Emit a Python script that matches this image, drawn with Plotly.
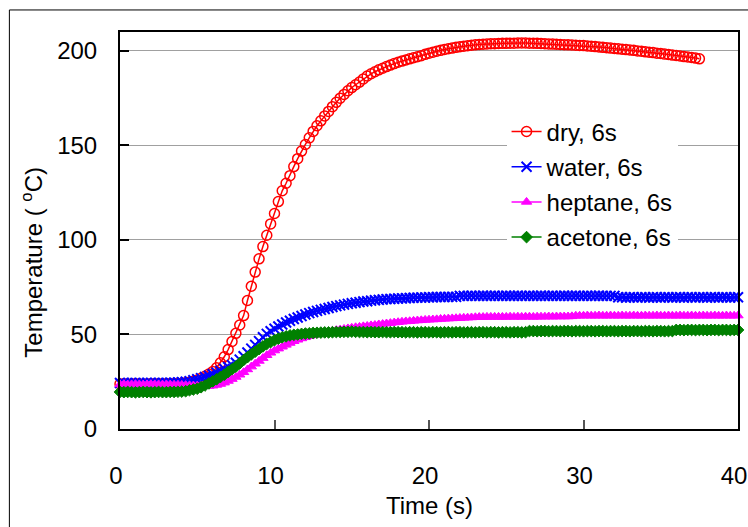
import plotly.graph_objects as go

TIME_STEP = 0.25  # s, sampling interval of the recorded data

dry_6s = [
    23.8, 23.9, 23.7, 23.8, 23.9, 23.8, 23.7, 23.8, 23.9, 23.8,
    23.9, 23.8, 23.9, 24.0, 23.9, 24.1, 24.2, 24.4, 24.7, 25.2,
    25.9, 26.8, 27.9, 29.1, 30.4, 32.4, 35.0, 38.2, 42.0, 46.3,
    50.6, 55.0, 60.0, 68.0, 75.5, 83.0, 90.0, 96.5, 102.5, 108.5,
    114.0, 120.3, 126.0, 130.0, 134.0, 138.8, 143.0, 147.0, 150.5, 154.0,
    157.4, 160.4, 163.0, 165.6, 168.0, 170.5, 172.8, 175.0, 177.0, 178.9,
    180.6, 182.1, 183.5, 185.2, 186.7, 187.9, 189.0, 190.0, 190.8, 191.7,
    192.5, 193.3, 194.0, 194.6, 195.2, 195.8, 196.4, 196.9, 197.5, 198.2,
    198.8, 199.3, 199.8, 200.3, 200.8, 201.2, 201.5, 201.9, 202.2, 202.5,
    202.7, 203.0, 203.2, 203.4, 203.5, 203.7, 203.8, 203.8, 203.9, 204.0,
    204.0, 204.1, 204.1, 204.2, 204.2, 204.2, 204.1, 204.1, 204.0, 203.9,
    203.8, 203.7, 203.6, 203.5, 203.4, 203.3, 203.2, 203.1, 203.0, 202.9,
    202.8, 202.6, 202.5, 202.3, 202.1, 201.9, 201.7, 201.5, 201.3, 201.1,
    200.9, 200.7, 200.5, 200.3, 200.0, 199.8, 199.5, 199.3, 199.1, 198.8,
    198.6, 198.3, 198.1, 197.8, 197.6, 197.3, 197.0, 196.8, 196.5, 196.2,
    195.8,
]

water_6s = [
    24.3, 24.4, 24.2, 24.3, 24.4, 24.3, 24.2, 24.3, 24.4, 24.3,
    24.4, 24.3, 24.4, 24.5, 24.5, 24.6, 24.8, 25.0, 25.3, 25.8,
    26.3, 26.9, 27.5, 28.2, 29.0, 29.8, 30.7, 31.7, 32.8, 33.8,
    35.0, 36.7, 38.5, 40.5, 42.5, 44.5, 46.5, 48.5, 50.3, 51.7,
    53.0, 54.2, 55.3, 56.3, 57.3, 58.2, 59.0, 59.8, 60.6, 61.3,
    61.9, 62.5, 63.0, 63.5, 64.0, 64.5, 65.0, 65.4, 65.8, 66.2,
    66.5, 66.8, 67.1, 67.4, 67.6, 67.9, 68.1, 68.3, 68.5, 68.7,
    68.8, 68.9, 69.0, 69.1, 69.2, 69.3, 69.4, 69.5, 69.6, 69.6,
    69.7, 69.7, 69.8, 69.8, 69.8, 69.9, 69.9, 69.9, 70.4, 70.4,
    70.4, 70.5, 70.4, 70.4, 70.5, 70.4, 70.4, 70.5, 70.4, 70.4,
    70.5, 70.4, 70.4, 70.5, 70.4, 70.4, 70.5, 70.4, 70.4, 70.5,
    70.4, 70.4, 70.5, 70.4, 70.4, 70.5, 70.4, 70.4, 70.5, 70.4,
    70.4, 70.5, 70.4, 70.4, 70.5, 70.4, 70.4, 70.4, 70.4, 69.7,
    69.7, 69.6, 69.7, 69.7, 69.6, 69.7, 69.7, 69.6, 69.7, 69.7,
    69.6, 69.7, 69.7, 69.6, 69.7, 69.7, 69.6, 69.7, 69.7, 69.6,
    69.7, 69.7, 69.6, 69.7, 69.7, 69.6, 69.7, 69.7, 69.6, 69.7,
    69.7,
]

heptane_6s = [
    23.6, 23.7, 23.5, 23.6, 23.7, 23.6, 23.5, 23.6, 23.7, 23.6,
    23.6, 23.5, 23.6, 23.5, 23.4, 23.4, 23.3, 23.2, 23.1, 23.0,
    22.9, 22.8, 22.7, 22.7, 22.9, 23.3, 23.8, 24.5, 25.4, 26.4,
    27.5, 28.7, 30.0, 31.5, 33.0, 34.5, 36.0, 37.5, 39.0, 40.3,
    41.5, 42.5, 43.5, 44.5, 45.5, 46.4, 47.2, 47.9, 48.5, 49.1,
    49.6, 50.1, 50.6, 51.1, 51.5, 51.9, 52.3, 52.6, 52.9, 53.2,
    53.5, 53.8, 54.0, 54.3, 54.5, 54.8, 55.0, 55.3, 55.5, 55.8,
    56.0, 56.3, 56.5, 56.7, 56.9, 57.0, 57.2, 57.4, 57.5, 57.7,
    57.8, 57.9, 58.0, 58.2, 58.3, 58.4, 58.5, 58.6, 58.7, 58.8,
    58.9, 59.0, 59.1, 59.2, 59.2, 59.3, 59.3, 59.3, 59.3, 59.3,
    59.3, 59.4, 59.3, 59.4, 59.3, 59.4, 59.4, 59.3, 59.4, 59.4,
    59.4, 59.5, 59.4, 59.5, 59.5, 59.5, 59.5, 59.6, 59.9, 59.9,
    59.9, 60.0, 59.9, 59.9, 60.0, 59.9, 59.9, 60.0, 59.9, 59.9,
    60.0, 59.9, 59.9, 60.0, 59.9, 59.9, 60.0, 59.9, 59.9, 60.0,
    59.9, 59.9, 60.0, 59.9, 59.9, 60.0, 59.9, 59.9, 60.0, 59.9,
    59.9, 60.0, 59.9, 59.9, 60.0, 59.9, 59.9, 60.0, 59.9, 59.9,
    60.0,
]

acetone_6s = [
    19.6, 19.5, 19.6, 19.5, 19.4, 19.5, 19.6, 19.5, 19.4, 19.5,
    19.6, 19.5, 19.5, 19.6, 19.6, 19.7, 19.8, 20.0, 20.5, 20.9,
    21.3, 22.1, 23.0, 24.1, 25.2, 26.3, 27.5, 28.7, 30.2, 31.6,
    33.0, 34.7, 36.5, 38.0, 39.5, 40.9, 42.3, 43.7, 45.0, 46.0,
    47.0, 47.8, 48.5, 49.0, 49.5, 49.8, 50.0, 50.3, 50.5, 50.6,
    50.8, 50.9, 51.0, 51.1, 51.1, 51.2, 51.3, 51.3, 51.4, 51.4,
    51.5, 51.4, 51.3, 51.3, 51.2, 51.3, 51.2, 51.2, 51.3, 51.2,
    51.2, 51.3, 51.2, 51.2, 51.1, 51.2, 51.2, 51.1, 51.2, 51.2,
    51.1, 51.2, 51.2, 51.1, 51.2, 51.2, 51.1, 51.2, 51.2, 51.1,
    51.2, 51.2, 51.1, 51.2, 51.2, 51.1, 51.2, 51.2, 51.1, 51.2,
    51.2, 51.1, 51.2, 51.2, 51.1, 51.2, 51.8, 51.8, 51.7, 51.8,
    51.8, 51.7, 51.8, 51.8, 51.7, 51.8, 51.8, 51.7, 51.8, 51.8,
    51.7, 51.8, 51.8, 51.7, 51.8, 51.8, 51.7, 51.8, 51.8, 51.7,
    51.8, 51.8, 51.7, 51.8, 51.8, 51.7, 51.8, 51.8, 51.7, 51.8,
    51.8, 51.7, 51.8, 51.8, 52.4, 52.4, 52.3, 52.4, 52.4, 52.3,
    52.4, 52.4, 52.3, 52.4, 52.4, 52.3, 52.4, 52.4, 52.3, 52.4,
    52.4,
]

series_names = ["dry, 6s", "water, 6s", "heptane, 6s", "acetone, 6s"]
series_values = [dry_6s, water_6s, heptane_6s, acetone_6s]
series_colors = ["#FF0000", "#0000FF", "#FF00FF", "#008000"]
series_symbols = ["circle-open", "x-thin-open", "triangle-up", "diamond"]
series_sizes = [10, 10, 9, 9]
series_mlw = [1.5, 2, 1, 1]

x_ticks = [0, 10, 20, 30, 40]
y_ticks = [0, 50, 100, 150, 200]

FONT = "Liberation Sans, Arial, Helvetica, sans-serif"

fig = go.Figure()
for name, vals, col, sym, sz, mlw in zip(series_names, series_values, series_colors,
                                         series_symbols, series_sizes, series_mlw):
    t = [round(i * TIME_STEP, 2) for i in range(len(vals))]
    fig.add_trace(go.Scatter(
        x=t, y=vals, name=name, mode="lines+markers",
        legendgroup=name,
        line=dict(color=col, width=1.5),
        marker=dict(symbol=sym, size=sz, color=col,
                    line=dict(color=col, width=mlw)),
        cliponaxis=False,
    ))

fig.update_layout(
    width=748, height=527,
    margin=dict(l=120, r=10, t=32, b=98, autoexpand=False),
    paper_bgcolor="white", plot_bgcolor="white",
    font=dict(family=FONT, size=24, color="black"),
    showlegend=True,
    legend=dict(
        x=0.6255, y=0.805, xanchor="left", yanchor="top",
        bgcolor="white", borderwidth=0,
        font=dict(size=24, family=FONT),
        tracegroupgap=1,
    ),
    xaxis=dict(
        range=[0, 40], tickvals=x_ticks, ticks="inside", ticklen=9,
        tickcolor="#555555", tickwidth=1.5,
        showline=True, linecolor="black", linewidth=2, mirror=True,
        showgrid=False, zeroline=False, automargin=False,
        ticklabelstandoff=24, ticklabeloverflow="allow", ticklabelshift=-4,
        tickfont=dict(size=24, family=FONT),
    ),
    yaxis=dict(
        range=[0, 210], tickvals=y_ticks, ticks="inside", ticklen=9,
        tickcolor="black", tickwidth=1.5,
        showline=True, linecolor="black", linewidth=2, mirror=True,
        showgrid=True, gridcolor="#A0A0A0", gridwidth=1, zeroline=False,
        automargin=False,
        ticklabelstandoff=16, ticklabeloverflow="allow",
        tickfont=dict(size=24, family=FONT),
    ),
    annotations=[
        dict(text="Time (s)", xref="paper", yref="paper", x=0.5, y=-0.193,
             xanchor="center", yanchor="middle", showarrow=False,
             font=dict(size=24, family=FONT)),
        dict(text="Temperature ( <sup>o</sup>C)", xref="paper", yref="paper",
             x=-0.1417, y=0.42, xanchor="center", yanchor="middle",
             textangle=-90, showarrow=False,
             font=dict(size=24, family=FONT)),
    ],
    shapes=[
        dict(type="rect", xref="paper", yref="paper",
             x0=-0.179, x1=2.0, y0=-2.0, y1=1.0555,
             line=dict(color="black", width=1), fillcolor="rgba(0,0,0,0)",
             layer="below"),
    ],
)

fig.write_html("out.html")
